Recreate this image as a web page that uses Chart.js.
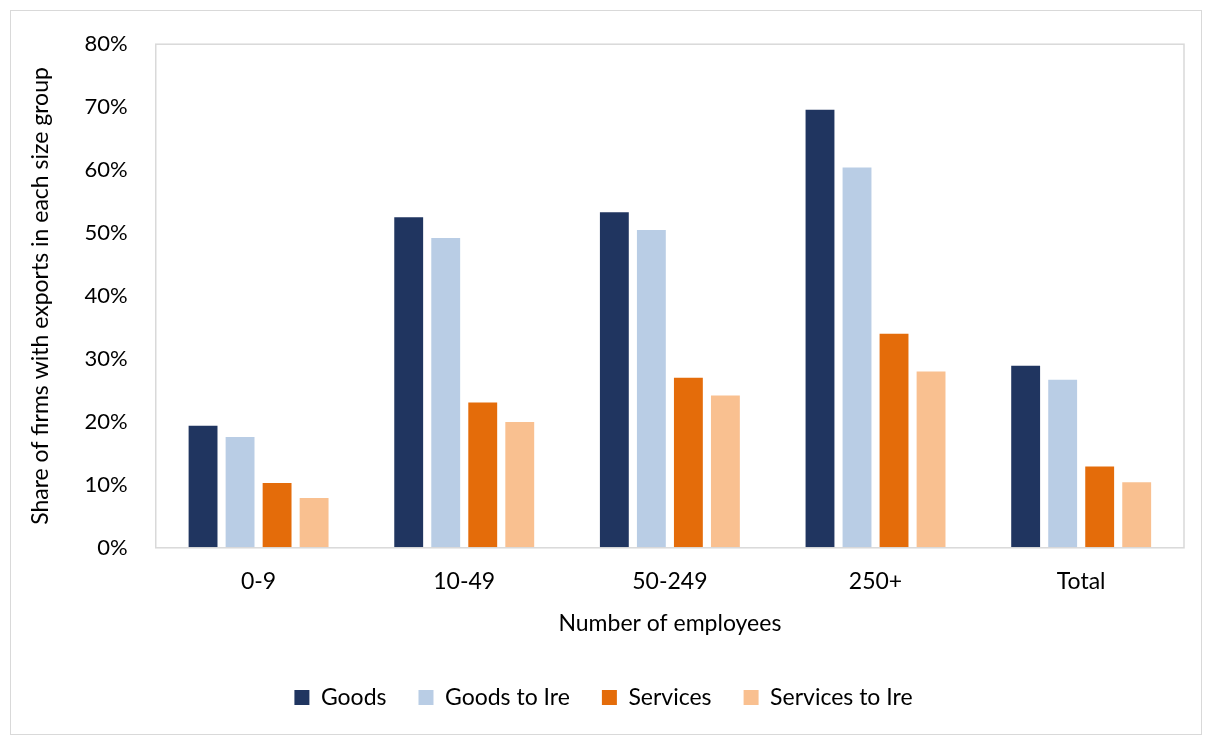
<!DOCTYPE html>
<html>
<head>
<meta charset="utf-8">
<script src="https://cdn.jsdelivr.net/npm/chart.js@4/dist/chart.umd.min.js"></script>
<style>
  html, body { margin: 0; padding: 0; background: #fff; }
  #wrap {
    position: absolute; left: 10px; top: 10px;
    width: 1190px; height: 723px;
    border: 1px solid #d9d9d9;
  }
</style>
</head>
<body>
<div id="wrap"><canvas id="chart"></canvas></div>
<script>
// categories and values (share of firms, %)
const sizeGroups = ['0-9', '10-49', '50-249', '250+', 'Total'];
const goods = [19.4, 52.5, 53.3, 69.6, 28.9];
const goodsToIre = [17.6, 49.2, 50.5, 60.4, 26.7];
const services = [10.3, 23.1, 27.0, 34.0, 12.9];
const servicesToIre = [7.9, 20.0, 24.2, 28.0, 10.4];
const yTicks = [0, 10, 20, 30, 40, 50, 60, 70, 80];

const FONT = 'Lato, "Open Sans", sans-serif';
const TEXT = '#000000';

// box around the plot area, like the original
const plotBox = {
  id: 'plotBox',
  afterDraw(chart) {
    const { ctx, chartArea } = chart;
    ctx.save();
    ctx.strokeStyle = '#d9d9d9';
    ctx.lineWidth = 1.5;
    ctx.strokeRect(chartArea.left, chartArea.top, chartArea.right - chartArea.left, chartArea.bottom - chartArea.top);
    ctx.restore();
  }
};

function bar(label, data, color) {
  return {
    label: label,
    data: data,
    backgroundColor: color,
    borderWidth: 0,
    barPercentage: 0.78,
    categoryPercentage: 0.72
  };
}

new Chart(document.getElementById('chart'), {
  type: 'bar',
  data: {
    labels: sizeGroups,
    datasets: [
      bar('Goods', goods, '#203560'),
      bar('Goods to Ire', goodsToIre, '#b9cde5'),
      bar('Services', services, '#e46c0a'),
      bar('Services to Ire', servicesToIre, '#f9c090')
    ]
  },
  options: {
    responsive: true,
    maintainAspectRatio: false,
    animation: false,
    layout: { padding: { left: 12, right: 17, top: 2, bottom: 15 } },
    plugins: {
      legend: {
        position: 'bottom',
        labels: {
          font: { family: FONT, size: 23 },
          color: TEXT,
          boxWidth: 15,
          boxHeight: 15,
          padding: 32
        }
      },
      tooltip: { enabled: false }
    },
    scales: {
      x: {
        grid: { display: false },
        border: { display: false },
        ticks: { font: { family: FONT, size: 23 }, color: TEXT, padding: 12 },
        title: {
          display: true,
          text: 'Number of employees',
          font: { family: FONT, size: 23 },
          color: TEXT,
          padding: { top: 2, bottom: 17 }
        }
      },
      y: {
        min: 0,
        max: 80,
        afterBuildTicks(axis) {
          axis.ticks = yTicks.map(v => ({ value: v }));
        },
        grid: { display: false },
        border: { display: false },
        ticks: {
          font: { family: FONT, size: 22 },
          color: TEXT,
          padding: 20,
          callback: v => v + '%'
        },
        title: {
          display: true,
          text: 'Share of firms with exports in each size group',
          font: { family: FONT, size: 23 },
          color: TEXT,
          padding: { bottom: 10 }
        }
      }
    }
  },
  plugins: [plotBox]
});
</script>
</body>
</html>
